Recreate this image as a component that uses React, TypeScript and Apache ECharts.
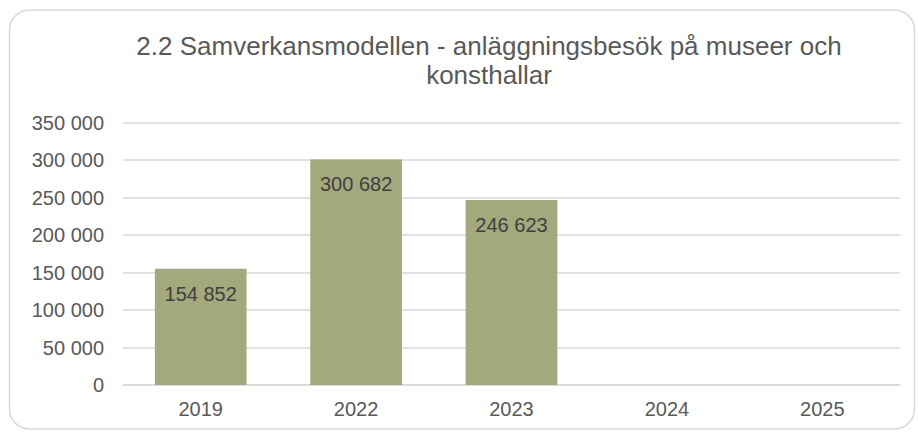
import React, { useEffect, useRef } from "react";
import * as echarts from "echarts";

const categories = ["2019", "2022", "2023", "2024", "2025"];
const visits: (number | null)[] = [154852, 300682, 246623, null, null];
const titleLines = ["2.2 Samverkansmodellen - anläggningsbesök på museer och", "konsthallar"];
const yMax = 350000;
const yInterval = 50000;

const fmt = (v: number) => String(Math.round(v)).replace(/\B(?=(\d{3})+(?!\d))/g, " ");

export default function App() {
  const ref = useRef<HTMLDivElement>(null);
  useEffect(() => {
    document.body.style.margin = "0";
    if (!ref.current) return;
    const chart = echarts.init(ref.current, undefined, { renderer: "svg" });
    const font = "'Liberation Sans', Arial, Helvetica, sans-serif";
    chart.setOption({
      animation: false,
      backgroundColor: "#ffffff",
      textStyle: { fontFamily: font },
      graphic: [
        {
          type: "rect",
          shape: { x: 9.5, y: 10, width: 905, height: 419, r: 20 },
          style: { fill: "none", stroke: "#d9d9d9", lineWidth: 1.5 },
          silent: true,
        },
        ...titleLines.map((t, i) => ({
          type: "text",
          x: 489,
          y: 46 + i * 29,
          style: {
            text: t,
            fill: "#595959",
            font: `26px ${font}`,
            textAlign: "center",
            textVerticalAlign: "middle",
          },
        })),
      ],
      grid: { left: 123, right: 18, top: 122.5, bottom: 49, containLabel: false },
      xAxis: {
        type: "category",
        data: categories,
        axisLine: { show: true, lineStyle: { color: "#d9d9d9", width: 1.5 } },
        axisTick: { show: false },
        axisLabel: { color: "#595959", fontSize: 20, margin: 14, fontFamily: font },
      },
      yAxis: {
        type: "value",
        min: 0,
        max: yMax,
        interval: yInterval,
        axisLine: { show: false },
        axisTick: { show: false },
        splitLine: { lineStyle: { color: "#d9d9d9", width: 1.5 } },
        axisLabel: {
          color: "#595959",
          fontSize: 20,
          margin: 19,
          fontFamily: font,
          formatter: (v: number) => fmt(v),
        },
      },
      series: [
        {
          type: "bar",
          data: visits,
          barCategoryGap: "41%",
          itemStyle: { color: "#a3a97d" },
          label: {
            show: true,
            position: "insideTop",
            distance: 15,
            color: "#404040",
            fontSize: 20,
            fontFamily: font,
            formatter: (p: any) => (p.value == null ? "" : fmt(p.value)),
          },
        },
      ],
    });
    return () => chart.dispose();
  }, []);
  return <div ref={ref} style={{ width: 918, height: 434 }} />;
}
